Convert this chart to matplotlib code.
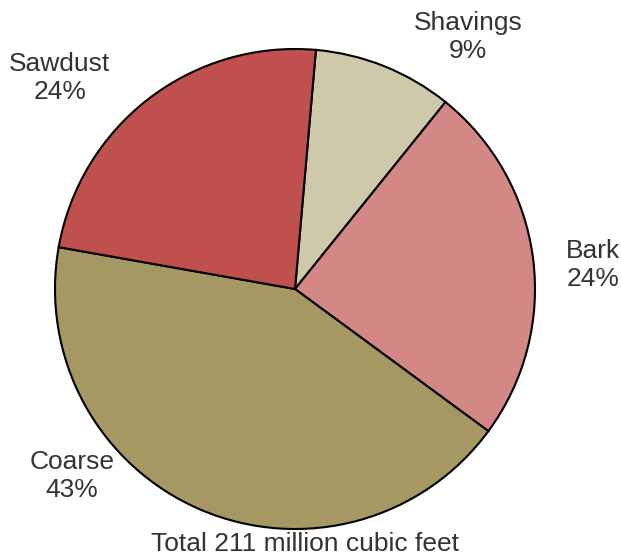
import matplotlib.pyplot as plt

# wood residue shares, clockwise from top
names = ['Shavings', 'Bark', 'Coarse', 'Sawdust']
shares = [9.4, 24.3, 42.7, 23.6]
pct_labels = ['9%', '24%', '43%', '24%']
colors = ['#CEC9AA', '#D48886', '#A59862', '#C0504D']
total_label = 'Total 211 million cubic feet'

plt.rcParams['font.family'] = ['Liberation Sans', 'DejaVu Sans']

fig = plt.figure(figsize=(6.21, 5.56), dpi=100)
ax = fig.add_axes([0, 0, 1, 1])

ax.pie(shares, colors=colors, startangle=85, counterclock=False,
       wedgeprops=dict(edgecolor='black', linewidth=1.5))

# label spots (data units, pie radius = 1)
label_pos = {'Shavings': (0.72, 1.05), 'Bark': (1.24, 0.10),
             'Coarse': (-0.93, -0.78), 'Sawdust': (-0.98, 0.88)}
for n, p in zip(names, pct_labels):
    x, y = label_pos[n]
    ax.text(x, y, f'{n}\n{p}', ha='center', va='center', fontsize=19,
            color='#333333', linespacing=1.2)

ax.text(0.04, -1.0625, total_label, ha='center', va='center', fontsize=19,
        color='#333333')

ax.set_xlim(-295 / 240, 326 / 240)
ax.set_ylim(-267 / 240, 289 / 240)
ax.set_aspect('auto')
ax.axis('off')

fig.savefig('out.png', dpi=100)
